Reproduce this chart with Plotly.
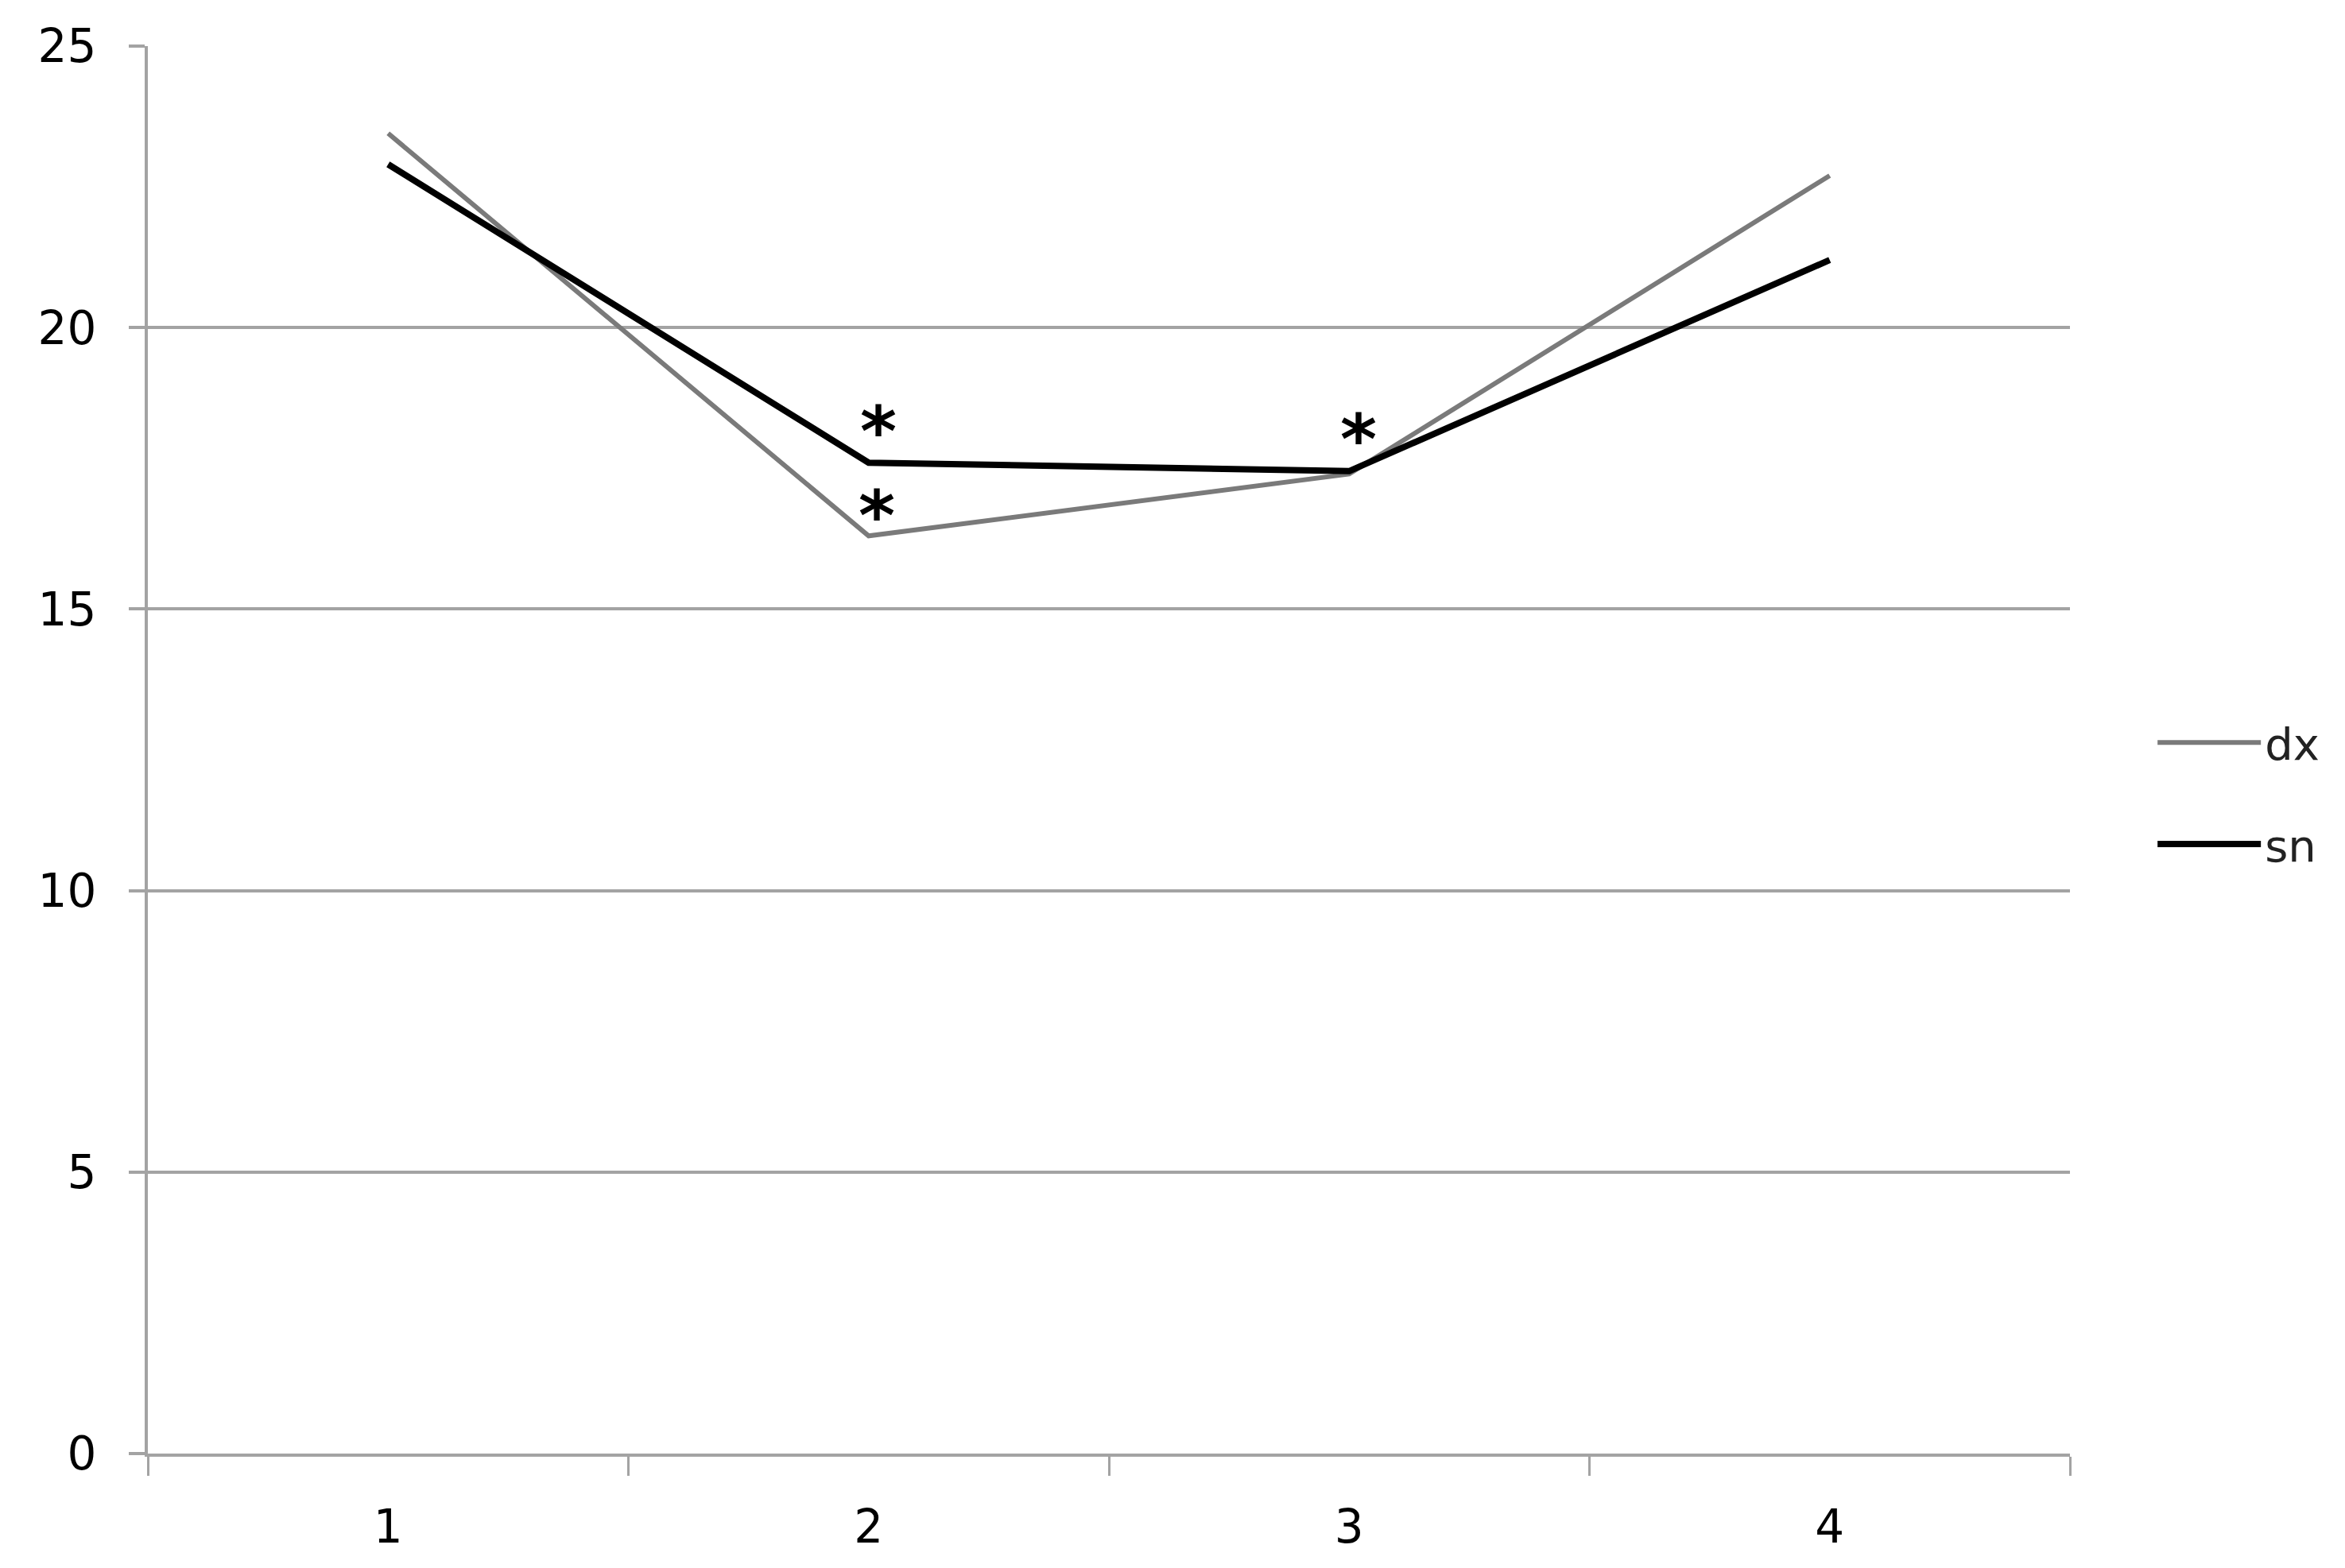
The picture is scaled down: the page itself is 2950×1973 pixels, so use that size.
import plotly.graph_objects as go

##############################################################
# Data
##############################################################

categories = ["1", "2", "3", "4"]

dx_values = [23.45, 16.3, 17.4, 22.7]
sn_values = [22.9, 17.6, 17.45, 21.2]

# significance markers (*) per point
dx_sig = [False, True, False, False]
sn_sig = [False, True, True, False]

y_ticks = [0, 5, 10, 15, 20, 25]

FONT = "DejaVu Sans"
GRID = "#a3a3a3"

##############################################################
# Figure
##############################################################

fig = go.Figure()

fig.add_trace(
    go.Scatter(
        x=categories,
        y=dx_values,
        name="dx",
        mode="lines",
        line={"color": "#7a7a7a", "width": 6},
        legendgroup="dx"
    )
)

fig.add_trace(
    go.Scatter(
        x=categories,
        y=sn_values,
        name="sn",
        mode="lines",
        line={"color": "#000000", "width": 8},
        legendgroup="sn"
    )
)

# asterisks above the significant points (x given as category index)
# offsets (px) per series: (xshift, yshift)
star_offsets = {"sn": (12, 40), "dx": (10, 26)}

for name, values, flags in [("sn", sn_values, sn_sig), ("dx", dx_values, dx_sig)]:
    xs, ys = star_offsets[name]
    for i, (val, flag) in enumerate(zip(values, flags)):
        if flag:
            fig.add_annotation(
                x=i,
                y=val,
                text="<b>*</b>",
                showarrow=False,
                xshift=xs,
                yshift=ys,
                yanchor="middle",
                borderpad=0,
                font={"family": FONT, "size": 88, "color": "#000000"}
            )

fig.update_xaxes(
    type="category",
    range=[-0.5, 3.5],
    showline=True,
    linecolor=GRID,
    linewidth=4,
    showgrid=False,
    ticks="outside",
    tickson="boundaries",
    ticklen=24,
    tickwidth=3,
    tickcolor=GRID,
    ticklabelstandoff=38,
    tickfont={"family": FONT, "size": 58, "color": "#000000"}
)

fig.update_yaxes(
    range=[0, 25],
    tickvals=y_ticks,
    showline=True,
    linecolor=GRID,
    linewidth=4,
    showgrid=True,
    gridcolor=GRID,
    gridwidth=4,
    zeroline=False,
    ticks="outside",
    ticklen=20,
    tickwidth=4,
    tickcolor=GRID,
    ticklabelstandoff=29,
    tickfont={"family": FONT, "size": 58, "color": "#000000"}
)

fig.update_layout(
    width=2950,
    height=1973,
    margin={"l": 178, "r": 354, "t": 50, "b": 152},
    plot_bgcolor="white",
    paper_bgcolor="white",
    showlegend=True,
    legend={
        "x": 1.0435,
        "y": 0.469,
        "xanchor": "left",
        "yanchor": "middle",
        "font": {"family": FONT, "size": 56, "color": "#222222"},
        "itemwidth": 130,
        "tracegroupgap": 52,
        "bgcolor": "rgba(0,0,0,0)"
    }
)

fig.write_html("out.html")
